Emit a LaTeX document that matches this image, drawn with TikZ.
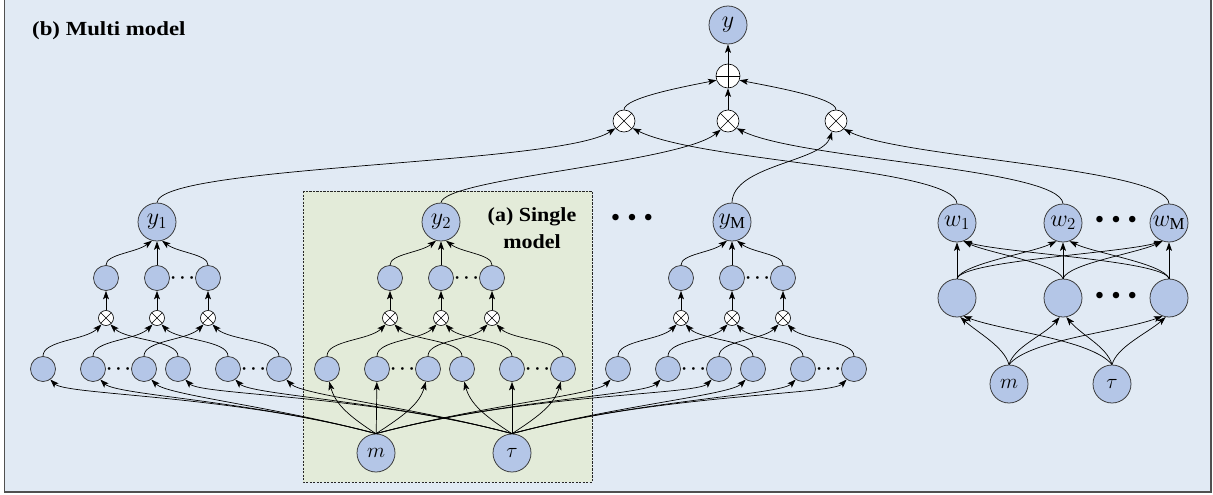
\RequirePackage{fix-cm}
\documentclass[tikz,border=0pt]{standalone}
\usepackage{fontspec}
\usepackage{graphicx}
\setmainfont{Liberation Serif}
\usetikzlibrary{arrows.meta}
\definecolor{bgblue}{HTML}{E1EAF4}
\definecolor{boxgreen}{HTML}{E3EBD9}
\definecolor{ndfill}{HTML}{B4C6E7}
\definecolor{ndline}{HTML}{333333}
\definecolor{framecol}{HTML}{505050}
\tikzset{
  nd/.style={circle,draw=ndline,fill=ndfill,line width=0.75pt,inner sep=0pt,minimum size=#1},
  lbl/.style={font=\fontsize{24}{28}\selectfont},
  lblm/.style={font=\fontsize{21}{25}\selectfont},
  arr/.style={line width=0.7pt,-{Stealth[length=8.5pt,width=6pt,inset=2pt]}},
  ox/.style={circle,draw=black,fill=white,line width=0.65pt,inner sep=0pt,minimum size=2*#1,
    path picture={\draw[line width=0.65pt] (path picture bounding box.center) +(45:#1) -- +(225:#1) +(135:#1) -- +(-45:#1);}},
  op/.style={circle,draw=black,fill=white,line width=0.65pt,inner sep=0pt,minimum size=2*#1,
    path picture={\draw[line width=0.65pt] (path picture bounding box.center) +(0:#1) -- +(180:#1) +(90:#1) -- +(-90:#1);}},
  sdots/.style={font=\fontsize{18}{18}\selectfont\boldmath,inner sep=0pt,anchor=base},
  bdots/.style={font=\fontsize{27}{27}\selectfont,inner sep=0pt},
  ttl/.style={font=\fontsize{20}{24}\selectfont\bfseries,inner sep=0pt},
  sbox/.style={draw=black!85,line width=0.75pt,dash pattern=on 2.2pt off 1.3pt,fill=boxgreen},
}
\newcommand\mkmodel[3]{%
  \node[nd=38pt,lbl] (#1y) at (#2,-222) {$#3$};
  \node[nd=25pt] (#1h1) at ({#2-51},-278) {};
  \node[nd=25pt] (#1h2) at (#2,-278) {};
  \node[nd=25pt] (#1h3) at ({#2+51},-278) {};
  \node[sdots] (#1hd) at ({#2+25.5},-282.5) {$\cdots$};
  \node[ox=7.5pt] (#1x1) at ({#2-51},-318) {};
  \node[ox=7.5pt] (#1x2) at (#2,-318) {};
  \node[ox=7.5pt] (#1x3) at ({#2+51},-318) {};
  \node[nd=25pt] (#1b1) at ({#2-114},-369) {};
  \node[nd=25pt] (#1b2) at ({#2-64},-369) {};
  \node[nd=25pt] (#1b3) at ({#2-13},-369) {};
  \node[nd=25pt] (#1b4) at ({#2+21},-369) {};
  \node[nd=25pt] (#1b5) at ({#2+71},-369) {};
  \node[nd=25pt] (#1b6) at ({#2+122},-369) {};
  \node[sdots] (#1bd1) at ({#2-38.5},-373.5) {$\cdots$};
  \node[sdots] (#1bd2) at ({#2+96.5},-373.5) {$\cdots$};
  \draw[arr] (#1h1.north) .. controls +(0,11) and +(-16,-12) .. (#1y.-105);
  \draw[arr] (#1h2) -- (#1y);
  \draw[arr] (#1h3.north) .. controls +(0,11) and +(16,-12) .. (#1y.-75);
  \draw[arr] (#1x1) -- (#1h1);
  \draw[arr] (#1x2) -- (#1h2);
  \draw[arr] (#1x3) -- (#1h3);
  \draw[arr] (#1b1.north) .. controls +(0,16) and +(-16,-16) .. (#1x1.-125);
  \draw[arr] (#1b2.north) .. controls +(0,16) and +(-16,-16) .. (#1x2.-125);
  \draw[arr] (#1b3.north) .. controls +(0,16) and +(-16,-16) .. (#1x3.-125);
  \draw[arr] (#1b4.north) .. controls +(0,16) and +(16,-16) .. (#1x1.-55);
  \draw[arr] (#1b5.north) .. controls +(0,16) and +(16,-16) .. (#1x2.-55);
  \draw[arr] (#1b6.north) .. controls +(0,16) and +(16,-16) .. (#1x3.-55);
}
\begin{document}
\begin{tikzpicture}[x=1pt,y=1pt]
\useasboundingbox (0,0) rectangle (1213,-495);
\fill[bgblue] (4.5,0) rectangle (1211,-492);
\draw[framecol,line width=1.6pt] (4.5,0) -- (4.5,-492) -- (1211,-492) -- (1211,0);
\draw[sbox] (303,-191) rectangle (592,-482);

\node[ttl,anchor=base west] (title) at (32,-35.5) {\scalebox{1.14}[1]{(b) Multi model}};
\node[ttl,anchor=base,align=center] (single) at (532,-248) {\scalebox{1.1}[1]{(a) Single}\\[3pt]\scalebox{1.1}[1]{model}};

% three models
\mkmodel{A}{157}{y_{1}}
\mkmodel{B}{441}{y_{2}}
\mkmodel{C}{732}{y_{\mathrm{M}}}
\node[bdots] (dotsY) at (632,-220) {•\hspace{7pt}•\hspace{7pt}•};

% inputs of the single model
\node[nd=38pt,lblm] (m) at (376,-453) {$m$};
\node[nd=38pt,lblm] (tau) at (512,-453) {$\tau$};

\draw[arr] (m.north) .. controls +(-28,18) and +(6,-22) .. (Bb1.-80);
\draw[arr] (m) -- (Bb2);
\draw[arr] (m.north) .. controls +(28,18) and +(-6,-22) .. (Bb3.-100);
\draw[arr] (tau.north) .. controls +(-28,18) and +(6,-22) .. (Bb4.-80);
\draw[arr] (tau) -- (Bb5);
\draw[arr] (tau.north) .. controls +(28,18) and +(-6,-22) .. (Bb6.-100);

\foreach \t/\d in {Ab1/150,Ab2/127,Ab3/105}
  \draw[arr] (m.north) to[out=165,in=-45,out distance=\d pt,in distance=22pt] (\t.-55);
\foreach \t/\d in {Ab4/150,Ab5/127,Ab6/105}
  \draw[arr] (tau.north) to[out=165,in=-45,out distance=\d pt,in distance=22pt] (\t.-55);
\foreach \t/\d in {Cb1/110,Cb2/130,Cb3/155}
  \draw[arr] (m.north) to[out=15,in=-135,out distance=\d pt,in distance=22pt] (\t.-125);
\foreach \t/\d in {Cb4/110,Cb5/130,Cb6/155}
  \draw[arr] (tau.north) to[out=15,in=-135,out distance=\d pt,in distance=22pt] (\t.-125);

% weight network
\node[nd=38pt,lbl] (w1) at (957,-223) {$w_{1}$};
\node[nd=38pt,lbl] (w2) at (1063,-223) {$w_{2}$};
\node[nd=38pt,lbl] (w3) at (1169,-223) {$w_{\mathrm{M}}$};
\node[bdots] (dotsW) at (1116,-222) {•\hspace{7pt}•\hspace{7pt}•};
\node[nd=38pt] (g1) at (957,-298) {};
\node[nd=38pt] (g2) at (1063,-298) {};
\node[nd=38pt] (g3) at (1169,-298) {};
\node[bdots] (dotsG) at (1116,-298) {•\hspace{7pt}•\hspace{7pt}•};
\node[nd=38pt,lblm] (m2) at (1009,-384) {$m$};
\node[nd=38pt,lblm] (t2) at (1112,-384) {$\tau$};

\draw[arr] (m2.north) .. controls +(-5,18) and +(18,-16) .. (g1.-80);
\draw[arr] (m2.north) .. controls +(5,18) and +(-15,-18) .. (g2.-100);
\draw[arr] (m2.north) .. controls +(20,25) and +(-40,-15) .. (g3.-110);
\draw[arr] (t2.north) .. controls +(-20,25) and +(40,-15) .. (g1.-70);
\draw[arr] (t2.north) .. controls +(-5,18) and +(15,-18) .. (g2.-80);
\draw[arr] (t2.north) .. controls +(5,18) and +(-18,-16) .. (g3.-100);

\draw[arr] (g1) -- (w1);
\draw[arr] (g2) -- (w2);
\draw[arr] (g3) -- (w3);
\draw[arr] (g1.north) .. controls +(5,15) and +(-25,-12) .. (w2.-110);
\draw[arr] (g1.north) .. controls +(5,18) and +(-40,-12) .. (w3.-110);
\draw[arr] (g2.north) .. controls +(-5,15) and +(25,-12) .. (w1.-70);
\draw[arr] (g2.north) .. controls +(5,15) and +(-25,-12) .. (w3.-110);
\draw[arr] (g3.north) .. controls +(-5,18) and +(40,-12) .. (w1.-70);
\draw[arr] (g3.north) .. controls +(-5,15) and +(25,-12) .. (w2.-70);

% combination
\node[ox=11pt] (o1) at (624,-121) {};
\node[ox=11pt] (o2) at (728,-121) {};
\node[ox=11pt] (o3) at (836,-121) {};
\node[op=12pt] (plus) at (728,-76) {};
\node[nd=38pt,lbl] (y) at (728,-25) {$y$};

\draw[arr] (plus) -- (y);
\draw[arr] (o2) -- (plus);
\draw[arr] (o1.north) .. controls +(0,12) and +(-30,-6) .. (plus.-160);
\draw[arr] (o3.north) .. controls +(0,12) and +(30,-6) .. (plus.-20);

\draw[arr] (Ay.north) .. controls (160,-165) and (560,-165) .. (o1.-140);
\draw[arr] (By.north) .. controls (445,-178) and (680,-163) .. (o2.-130);
\draw[arr] (Cy.north) .. controls (733,-165) and (822,-162) .. (o3.-110);
\draw[arr] (w1.north) .. controls (955,-168) and (700,-162) .. (o1.-40);
\draw[arr] (w2.north) .. controls (1060,-168) and (800,-160) .. (o2.-40);
\draw[arr] (w3.north) .. controls (1167,-168) and (900,-158) .. (o3.-45);
\end{tikzpicture}
\end{document}
